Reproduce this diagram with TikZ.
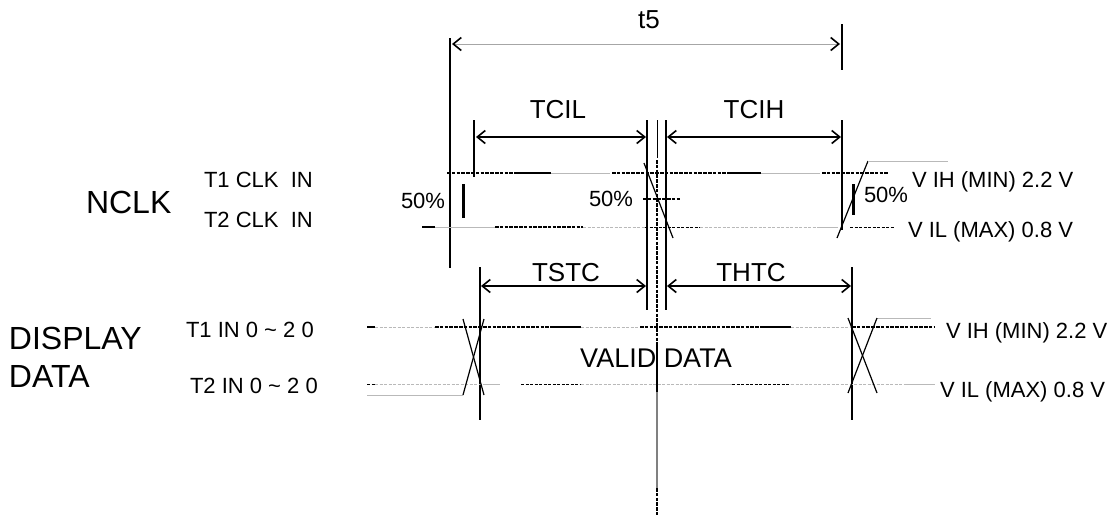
\documentclass[tikz,border=0pt]{standalone}
\usepackage{fontspec}
\setmainfont{Liberation Sans}
\usetikzlibrary{arrows.meta}
\begin{document}
\begin{tikzpicture}[x=1pt,y=-1pt,
  vl/.style={line width=1.6pt,black},
  dimarrow/.style={line width=1.6pt,{Straight Barb[length=8pt,width=13pt,line width=1.6pt]}-{Straight Barb[length=8pt,width=13pt,line width=1.6pt]}},
  greyarrow/.style={line width=0.8pt,gray!70,{Straight Barb[length=8pt,width=13pt,line width=1.6pt,color=black]}-{Straight Barb[length=8pt,width=13pt,line width=1.6pt,color=black]}},
  hdot/.style={line width=2.8pt,black,dash pattern=on 3.6pt off 1.2pt},
  thk/.style={line width=2.4pt,black},
  gry/.style={line width=0.8pt,gray!55},
  gdash/.style={line width=0.8pt,gray!55,dash pattern=on 3pt off 1.5pt},
  bdash/.style={line width=1pt,black,dash pattern=on 3pt off 1.5pt},
  edgeline/.style={line width=1.2pt,black},
  pbar/.style={line width=3pt,black},
  lbl/.style={inner sep=0pt,outer sep=0pt},
  big/.style={lbl,font=\fontsize{32}{38}\selectfont},
  mid/.style={lbl,font=\fontsize{26}{30}\selectfont},
  sml/.style={lbl,font=\fontsize{22}{26}\selectfont}]
\useasboundingbox (0,0) rectangle (1109,515);
\fill[white] (0,0) rectangle (1109,515);

% ---- vertical reference lines
\draw[vl] (450,38) -- (450,268);
\draw[vl] (842,24) -- (842,70);
\draw[vl] (474,120) -- (474,177);
\draw[vl] (647,120) -- (647,310);
\draw[vl] (666,120) -- (666,310);
\draw[vl] (842,120) -- (842,230);
\draw[vl] (480,267) -- (480,420);
\draw[vl] (852,267) -- (852,420);

% ---- centre line
\draw[line width=0.9pt] (657,120) -- (657,158);
\draw[hdot] (657,160) -- (657,343);
\draw[thk,line width=2.8pt] (657,343) -- (657,392);
\draw[line width=1.8pt,gray] (657,392) -- (657,488);
\draw[hdot] (657,488) -- (657,515);

% ---- dimension arrows
\coordinate (t5L) at (452,44); \coordinate (t5R) at (840,44);
\coordinate (cilL) at (476,137); \coordinate (cilR) at (646,137);
\coordinate (cihL) at (667,137); \coordinate (cihR) at (841,137);
\coordinate (stcL) at (481,286); \coordinate (stcR) at (646,286);
\coordinate (htcL) at (667,286); \coordinate (htcR) at (851,286);
\draw[greyarrow] (t5L) -- (t5R);
\draw[dimarrow] (cilL) -- (cilR);
\draw[dimarrow] (cihL) -- (cihR);
\draw[dimarrow] (stcL) -- (stcR);
\draw[dimarrow] (htcL) -- (htcR);

% ---- NCLK high level
\draw[hdot] (447,173) -- (518,173);
\draw[thk] (518,173) -- (551,173);
\draw[gry] (551,173) -- (610,173);
\draw[hdot] (612,173) -- (728,173);
\draw[thk] (728,173) -- (761,173);
\draw[gry] (761,173) -- (820,173);
\draw[hdot] (822,173) -- (888,173);
% ---- NCLK low level
\draw[thk] (422,227) -- (435,227);
\draw[gry] (435,227) -- (495,227);
\draw[hdot] (495,227) -- (583,227);
\draw[gdash] (583,227) -- (645,227);
\draw[bdash] (645,227) -- (700,227);
\draw[gdash] (700,227) -- (817,227);
\draw[gry] (817,227) -- (838,227);
\draw[bdash] (850,227) -- (895,227);
% ---- 50% level
\draw[hdot] (643,199) -- (680,199);
% ---- clock edges
\draw[edgeline] (644,163) -- (673,238);
\draw[edgeline] (837,238) -- (868,161);
\draw[gry] (868,161) -- (948,161);
\draw[pbar] (463,184) -- (463,218);
\draw[pbar] (853,184) -- (853,215);

% ---- DATA high level
\draw[thk] (367,327) -- (375,327);
\draw[gdash] (375,327) -- (435,327);
\draw[hdot] (435,327) -- (550,327);
\draw[thk] (550,327) -- (581,327);
\draw[gdash] (581,327) -- (640,327);
\draw[hdot] (640,327) -- (760,327);
\draw[thk] (760,327) -- (791,327);
\draw[gdash] (791,327) -- (852,327);
\draw[hdot] (852,327) -- (935,327);
% ---- DATA low level
\draw[bdash] (367,384) -- (375,384);
\draw[gdash] (375,384) -- (486,384);
\draw[gry] (486,384) -- (500,384);
\draw[bdash] (521,384) -- (581,384);
\draw[gdash] (581,384) -- (700,384);
\draw[gry] (700,384) -- (732,384);
\draw[bdash] (732,384) -- (791,384);
\draw[gdash] (791,384) -- (905,384);
\draw[gry] (905,384) -- (935,384);
\draw[gry] (367,395) -- (463,395);
\draw[gry] (877,318) -- (931,318);
% ---- data crossings
\draw[edgeline] (463,319) -- (484,395);
\draw[edgeline] (484,319) -- (463,395);
\draw[edgeline] (848,318) -- (877,393);
\draw[edgeline] (877,318) -- (848,393);

% ---- labels
\node[mid,anchor=base] (t5) at (649,28) {t5};
\node[mid,anchor=base] (tcil) at (558,118) {TCIL};
\node[mid,anchor=base] (tcih) at (754,118) {TCIH};
\node[mid,anchor=base] (tstc) at (566,281) {TSTC};
\node[mid,anchor=base] (thtc) at (751,281) {THTC};
\node[big,anchor=base west] (nclk) at (86,213) {NCLK};
\node[sml,anchor=base west] (t1clk) at (204,187) {T1 CLK\ \ IN};
\node[sml,anchor=base west] (t2clk) at (204,227) {T2 CLK\ \ IN};
\node[sml,anchor=base west] (p50a) at (401,208) {50\%};
\node[sml,anchor=base west] (p50b) at (589,206) {50\%};
\node[sml,anchor=base west] (p50c) at (864,202) {50\%};
\node[sml,anchor=base west] (vih1) at (912,187) {V IH (MIN) 2.2 V};
\node[sml,anchor=base west] (vil1) at (908,237) {V IL (MAX) 0.8 V};
\node[big,anchor=base west] (disp) at (9,349) {DISPLAY};
\node[big,anchor=base west] (data) at (9,387) {DATA};
\node[sml,anchor=base west] (t1in) at (186,337) {T1 IN 0 \textasciitilde\ 2 0};
\node[sml,anchor=base west] (t2in) at (190,393) {T2 IN 0 \textasciitilde\ 2 0};
\node[lbl,font=\fontsize{27}{32}\selectfont,anchor=base] (valid) at (656,367) {VALID DATA};
\node[sml,anchor=base west] (vih2) at (946,338) {V IH (MIN) 2.2 V};
\node[sml,anchor=base west] (vil2) at (940,397) {V IL (MAX) 0.8 V};
\end{tikzpicture}
\end{document}
